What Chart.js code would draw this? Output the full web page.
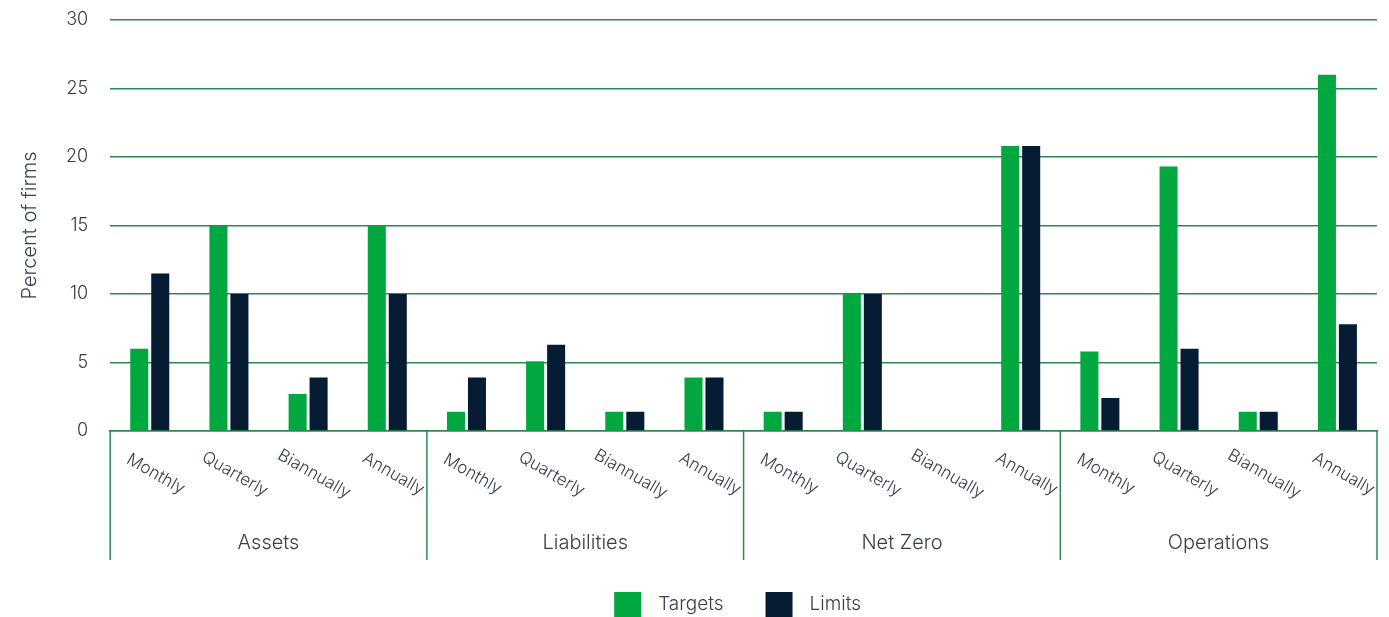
<!DOCTYPE html>
<html><head><meta charset="utf-8">
<script src="https://cdn.jsdelivr.net/npm/chart.js@4.4.0/dist/chart.umd.min.js"></script>
<style>html,body{margin:0;padding:0;background:#fff;}canvas{display:block;}</style>
</head><body>
<canvas id="c" width="1389" height="617"></canvas>
<script>
const groups = ['Assets', 'Liabilities', 'Net Zero', 'Operations'];
const frequencies = ['Monthly', 'Quarterly', 'Biannually', 'Annually'];
const targets = [6.0, 15.0, 2.7, 15.0, 1.4, 5.1, 1.4, 3.9, 1.4, 10.0, 0, 20.8, 5.8, 19.3, 1.4, 26.0];
const limits  = [11.5, 10.0, 3.9, 10.0, 3.9, 6.3, 1.4, 3.9, 1.4, 10.0, 0, 20.8, 2.4, 6.0, 1.4, 7.8];
const yTicks = [0, 5, 10, 15, 20, 25, 30];
const seriesNames = ['Targets', 'Limits'];

const GREEN = '#00a83f';
const NAVY = '#051c33';
const GRID = '#2a8a52';
const TEXT = '#36404f';
const FONT = 'Inter, "Open Sans", sans-serif';

const categories = [];
groups.forEach(g => frequencies.forEach(f => categories.push(f)));

const groupPlugin = {
  id: 'groupAxis',
  afterDraw(chart) {
    const ctx = chart.ctx;
    const x = chart.scales.x;
    const area = chart.chartArea;
    const n = frequencies.length;
    ctx.save();
    // rotated frequency labels
    ctx.fillStyle = TEXT;
    ctx.font = '300 17px ' + FONT;
    ctx.textAlign = 'center';
    ctx.textBaseline = 'middle';
    categories.forEach((lab, i) => {
      const px = x.getPixelForValue(i);
      ctx.save();
      ctx.translate(px + 6, area.bottom + 43);
      ctx.rotate(Math.PI / 6);
      ctx.fillText(lab, 0, 0);
      ctx.restore();
    });
    // separators
    const bounds = [area.left];
    for (let g = 1; g < groups.length; g++) {
      bounds.push((x.getPixelForValue(g * n - 1) + x.getPixelForValue(g * n)) / 2);
    }
    bounds.push(area.right);
    ctx.strokeStyle = GRID;
    ctx.lineWidth = 1.5;
    bounds.forEach(b => {
      ctx.beginPath();
      ctx.moveTo(b, area.bottom);
      ctx.lineTo(b, area.bottom + 129);
      ctx.stroke();
    });
    // group labels
    ctx.font = '300 20px ' + FONT;
    groups.forEach((g, i) => {
      ctx.fillText(g, (bounds[i] + bounds[i + 1]) / 2, area.bottom + 112);
    });
    // legend
    ctx.font = '300 19px ' + FONT;
    ctx.textAlign = 'left';
    const colors = [GREEN, NAVY];
    const boxW = 27, boxH = 25, gapT = 17, gapItem = 42;
    const widths = seriesNames.map(s => ctx.measureText(s).width);
    let total = 0;
    widths.forEach((w, i) => { total += boxW + gapT + w + (i ? 0 : gapItem); });
    let cx = (area.left + area.right) / 2 - 6 - total / 2;
    const by = area.bottom + 161;
    seriesNames.forEach((s, i) => {
      ctx.fillStyle = colors[i];
      ctx.fillRect(cx, by, boxW, boxH);
      ctx.fillStyle = TEXT;
      ctx.fillText(s, cx + boxW + gapT, by + boxH / 2);
      cx += boxW + gapT + widths[i] + gapItem;
    });
    ctx.restore();
  }
};

new Chart(document.getElementById('c'), {
  type: 'bar',
  data: {
    labels: categories,
    datasets: [
      { label: seriesNames[0], data: targets, backgroundColor: GREEN, borderWidth: 0 },
      { label: seriesNames[1], data: limits, backgroundColor: NAVY, borderWidth: 0 }
    ]
  },
  options: {
    responsive: false,
    animation: false,
    devicePixelRatio: 1,
    layout: { padding: { left: 18, right: 12, top: 20, bottom: 0 } },
    datasets: { bar: { categoryPercentage: 0.53, barPercentage: 0.86 } },
    plugins: {
      legend: { display: false },
      tooltip: { enabled: false }
    },
    scales: {
      x: {
        grid: { display: false },
        border: { display: true, color: GRID, width: 1.5 },
        ticks: { display: false },
        afterFit(scale) { scale.height = 186; }
      },
      y: {
        min: 0, max: 30,
        afterBuildTicks(scale) { scale.ticks = yTicks.map(v => ({ value: v })); },
        afterFit(scale) { scale.paddingTop = 0; scale.paddingBottom = 0; },
        grid: { color: GRID, lineWidth: 1.5, drawTicks: false },
        border: { display: false },
        ticks: { color: '#3a3a3a', font: { family: FONT, size: 18, weight: '300' }, padding: 22 },
        title: {
          display: true, text: 'Percent of firms', color: TEXT,
          font: { family: FONT, size: 20, weight: '300' }, padding: { top: 0, bottom: 2 }
        }
      }
    }
  },
  plugins: [groupPlugin]
});
</script>
</body></html>
